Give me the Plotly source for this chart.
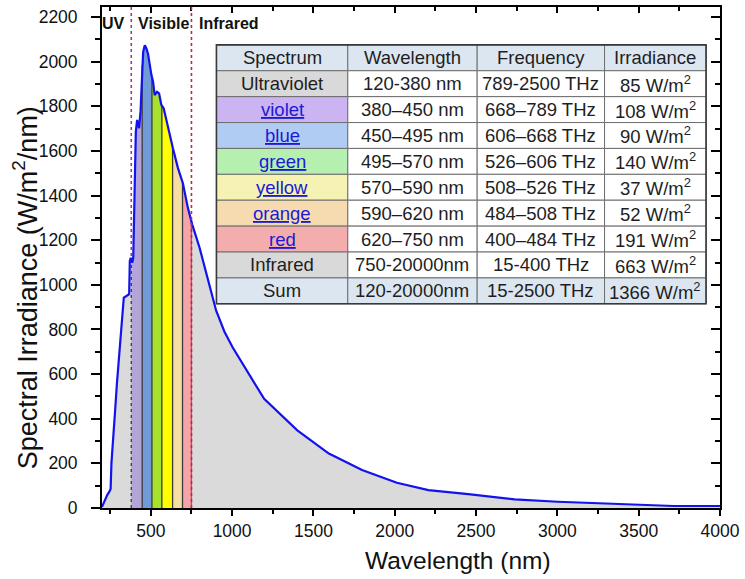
import numpy as np
import plotly.graph_objects as go

# ---------------- data ----------------
wavelength_nm = [200, 212, 222, 232, 245, 253, 258, 268, 280, 292, 305, 320, 334, 350, 367,
                 371, 377, 386, 392, 400, 408, 416, 428, 437, 447, 453, 463, 473, 483, 494,
                 504, 514, 524, 538, 551, 565, 579, 596, 616, 636, 667, 697, 728, 755, 800,
                 861, 902, 953, 1003, 1197, 1401, 1595, 1799, 2013, 2207, 2452, 2737, 3002,
                 3247, 3512, 3716, 4000]
irradiance = [5, 28, 45, 58, 73, 85, 200, 330, 430, 560, 680, 794, 943, 950, 958,
              1107, 1121, 1099, 1121, 1400, 1687, 1739, 1702, 1776, 1984, 2044, 2074, 2059, 2036, 1977,
              1940, 1910, 1850, 1865, 1858, 1806, 1791, 1739, 1672, 1612, 1523, 1456, 1345, 1270, 1166,
              990, 884, 790, 720, 489, 348, 244, 170, 113, 80, 62, 39, 28,
              21, 13, 9, 9]

band_edges = [380, 447, 507, 568, 634, 695, 750]
band_colors = ['#b4a5d8', '#709bd6', '#a6e22b', '#ffff00', '#f6dea2', '#f4a4ab']
region_bounds = [380, 750]
region_labels = ["UV", "Visible", "Infrared"]
x_title = "Wavelength (nm)"
y_title = "Spectral Irradiance (W/m<sup>2</sup>/nm)"

table_header = ["Spectrum", "Wavelength", "Frequency", "Irradiance"]
spectrum_names = ["Ultraviolet", "violet", "blue", "green", "yellow", "orange", "red", "Infrared", "Sum"]
is_link = [False, True, True, True, True, True, True, False, False]
wavelength_ranges = ["120-380 nm", "380–450 nm", "450–495 nm", "495–570 nm", "570–590 nm",
                     "590–620 nm", "620–750 nm", "750-20000nm", "120-20000nm"]
frequency_ranges = ["789-2500 THz", "668–789 THz", "606–668 THz", "526–606 THz", "508–526 THz",
                    "484–508 THz", "400–484 THz", "15-400 THz", "15-2500 THz"]
irradiance_values = [85, 108, 90, 140, 37, 52, 191, 663, 1366]
name_fills = ['#d9d9d9', '#ccb3f2', '#b0ccf2', '#b5f0b1', '#f5f2b3', '#f6dbb0', '#f3adad', '#d9d9d9', '#dce6f1']

# ---------------- layout constants ----------------
W, H = 745, 579
ML, MR, MT, MB = 102, 22, 5, 71
PW, PH = W - ML - MR, H - MT - MB
FONT = "Arial, Liberation Sans, sans-serif"

def px_x(p):
    return (p - ML) / PW

def px_y(p):
    return 1 - (p - MT) / PH

wl = np.array(wavelength_nm, float)
ir = np.array(irradiance, float)

fig = go.Figure()

# gray fill under whole curve
fig.add_trace(go.Scatter(x=wl, y=ir, mode='lines', fill='tozeroy', fillcolor='#dadada',
                         line=dict(width=0, color='#dadada'), hoverinfo='skip', showlegend=False))

# colored visible bands
for i, c in enumerate(band_colors):
    a, b = band_edges[i], band_edges[i + 1]
    inside = (wl > a) & (wl < b)
    bx = np.concatenate([[a], wl[inside], [b]])
    by = np.interp(bx, wl, ir)
    fig.add_trace(go.Scatter(x=bx, y=by, mode='lines', fill='tozeroy', fillcolor=c,
                             line=dict(width=0, color=c), hoverinfo='skip', showlegend=False))

# divider lines between bands
for j, e in enumerate(band_edges):
    top = float(np.interp(e, wl, ir))
    if j == 0:
        ln = dict(color='#3a3a3a', width=1.3, dash='dot')
    elif j == len(band_edges) - 1:
        ln = dict(color='#d04060', width=1.3)
    else:
        ln = dict(color='#3a3a3a', width=1.3)
    fig.add_trace(go.Scatter(x=[e, e], y=[0, top], mode='lines', line=ln,
                             hoverinfo='skip', showlegend=False))

# spectrum curve
fig.add_trace(go.Scatter(x=wl, y=ir, mode='lines', line=dict(color='#1212ee', width=2.2),
                         hoverinfo='skip', showlegend=False))

# dummy trace for mirrored inside-tick axes
fig.add_trace(go.Scatter(x=[None], y=[None], xaxis='x2', yaxis='y2', showlegend=False,
                         hoverinfo='skip'))

# region boundary dotted lines
fig.add_shape(type='line', xref='x', yref='paper', x0=region_bounds[0], x1=region_bounds[0],
              y0=0, y1=1, line=dict(color='#a0407a', width=1.6, dash='dot'), layer='below')
fig.add_shape(type='line', xref='x', yref='paper', x0=region_bounds[1], x1=region_bounds[1],
              y0=0, y1=1, line=dict(color='#e02020', width=1.6, dash='dot'), layer='above')

# region labels
lab_font = dict(size=16, color='#111', family=FONT)
fig.add_annotation(x=region_bounds[0], xref='x', y=1, yref='paper', yshift=-16, xshift=-4,
                   text=f"<b>{region_labels[0]}</b>", showarrow=False, xanchor='right',
                   yanchor='middle', font=lab_font)
fig.add_annotation(x=region_bounds[0], xref='x', y=1, yref='paper', yshift=-16, xshift=5,
                   text=f"<b>{region_labels[1]}</b>", showarrow=False, xanchor='left',
                   yanchor='middle', font=lab_font)
fig.add_annotation(x=region_bounds[1], xref='x', y=1, yref='paper', yshift=-16, xshift=6,
                   text=f"<b>{region_labels[2]}</b>", showarrow=False, xanchor='left',
                   yanchor='middle', font=lab_font)

# axis titles (placed as annotations to match the reference offsets)
fig.add_annotation(x=px_x(460), xref='paper', y=px_y(561), yref='paper', text=x_title,
                   showarrow=False, xanchor='center', yanchor='middle',
                   font=dict(size=24.5, color='#111', family=FONT))
fig.add_annotation(x=px_x(25), xref='paper', y=px_y(287), yref='paper', text=y_title,
                   showarrow=False, xanchor='center', yanchor='middle', textangle=-90,
                   font=dict(size=27, color='#111', family=FONT))

# ---------------- table drawn with shapes + annotations ----------------
col_edges = [217, 349, 479, 607, 709]
row_top = 43
row_h = 26
n_rows = len(spectrum_names)
name_cells = [
    (f'<span style="color:#1a1ad6;text-decoration:underline">{n}</span>' if lk else n)
    for n, lk in zip(spectrum_names, is_link)
]
irr_cells = [f"{v} W/m<sup>2</sup>" for v in irradiance_values]
columns = [name_cells, wavelength_ranges, frequency_ranges, irr_cells]
other_fill = ['#ffffff'] * (n_rows - 1) + ['#dce6f1']
fills = [name_fills, other_fill, other_fill, other_fill]
cell_font = dict(size=18.5, color='#1e1e1e', family=FONT)

for r in range(n_rows + 1):
    y0p = row_top + r * row_h
    y1p = y0p + row_h
    for c in range(4):
        if r == 0:
            txt, fc = table_header[c], '#dce6f1'
        else:
            txt, fc = columns[c][r - 1], fills[c][r - 1]
        fig.add_shape(type='rect', xref='paper', yref='paper',
                      x0=px_x(col_edges[c]), x1=px_x(col_edges[c + 1]),
                      y0=px_y(y1p), y1=px_y(y0p), fillcolor=fc,
                      line=dict(color='#6e6e6e', width=1), layer='above')
        fig.add_annotation(x=px_x((col_edges[c] + col_edges[c + 1]) / 2), xref='paper',
                           y=px_y((y0p + y1p) / 2), yref='paper', text=txt, showarrow=False,
                           xanchor='center', yanchor='middle', font=cell_font)

fig.add_shape(type='rect', xref='paper', yref='paper', x0=px_x(col_edges[0]),
              x1=px_x(col_edges[-1]), y0=px_y(row_top + row_h * (n_rows + 1)),
              y1=px_y(row_top), line=dict(color='#3a3a3a', width=1.6), layer='above')

yr = [0, 2245]
xr = [200, 4000]
fig.update_layout(
    width=W, height=H, margin=dict(l=ML, r=MR, t=MT, b=MB),
    paper_bgcolor='white', plot_bgcolor='white',
    font=dict(family=FONT, color='#111'),
    xaxis=dict(range=xr, dtick=500, tick0=0, ticks='outside', ticklen=6, tickwidth=1.5,
               tickcolor='black', minor=dict(dtick=250, tick0=0, ticks='outside', ticklen=4,
                                             tickwidth=1.5, tickcolor='black'),
               showline=True, linecolor='black', linewidth=1.8, mirror=True,
               showgrid=False, zeroline=False, tickfont=dict(size=17.5, family=FONT)),
    yaxis=dict(range=yr, dtick=200, tick0=0, ticks='outside', ticklen=9, tickwidth=1.5,
               tickcolor='black', minor=dict(dtick=100, tick0=0, ticks='outside', ticklen=5,
                                             tickwidth=1.5, tickcolor='black'),
               showline=True, linecolor='black', linewidth=1.8, mirror=True,
               showgrid=False, zeroline=False, tickfont=dict(size=17.5, family=FONT),
               ticklabelstandoff=10),
    xaxis2=dict(range=xr, overlaying='x', side='top', anchor='y2', dtick=500, tick0=0,
                ticks='inside', ticklen=6, tickwidth=1.5, tickcolor='black',
                minor=dict(dtick=250, tick0=0, ticks='inside', ticklen=4, tickwidth=1.5,
                           tickcolor='black'),
                showticklabels=False, showgrid=False, zeroline=False, showline=False),
    yaxis2=dict(range=yr, overlaying='y', side='right', anchor='x2', dtick=200, tick0=0,
                ticks='inside', ticklen=9, tickwidth=1.5, tickcolor='black',
                minor=dict(dtick=100, tick0=0, ticks='inside', ticklen=5, tickwidth=1.5,
                           tickcolor='black'),
                showticklabels=False, showgrid=False, zeroline=False, showline=False),
    showlegend=False,
)

fig.write_html("out.html")
